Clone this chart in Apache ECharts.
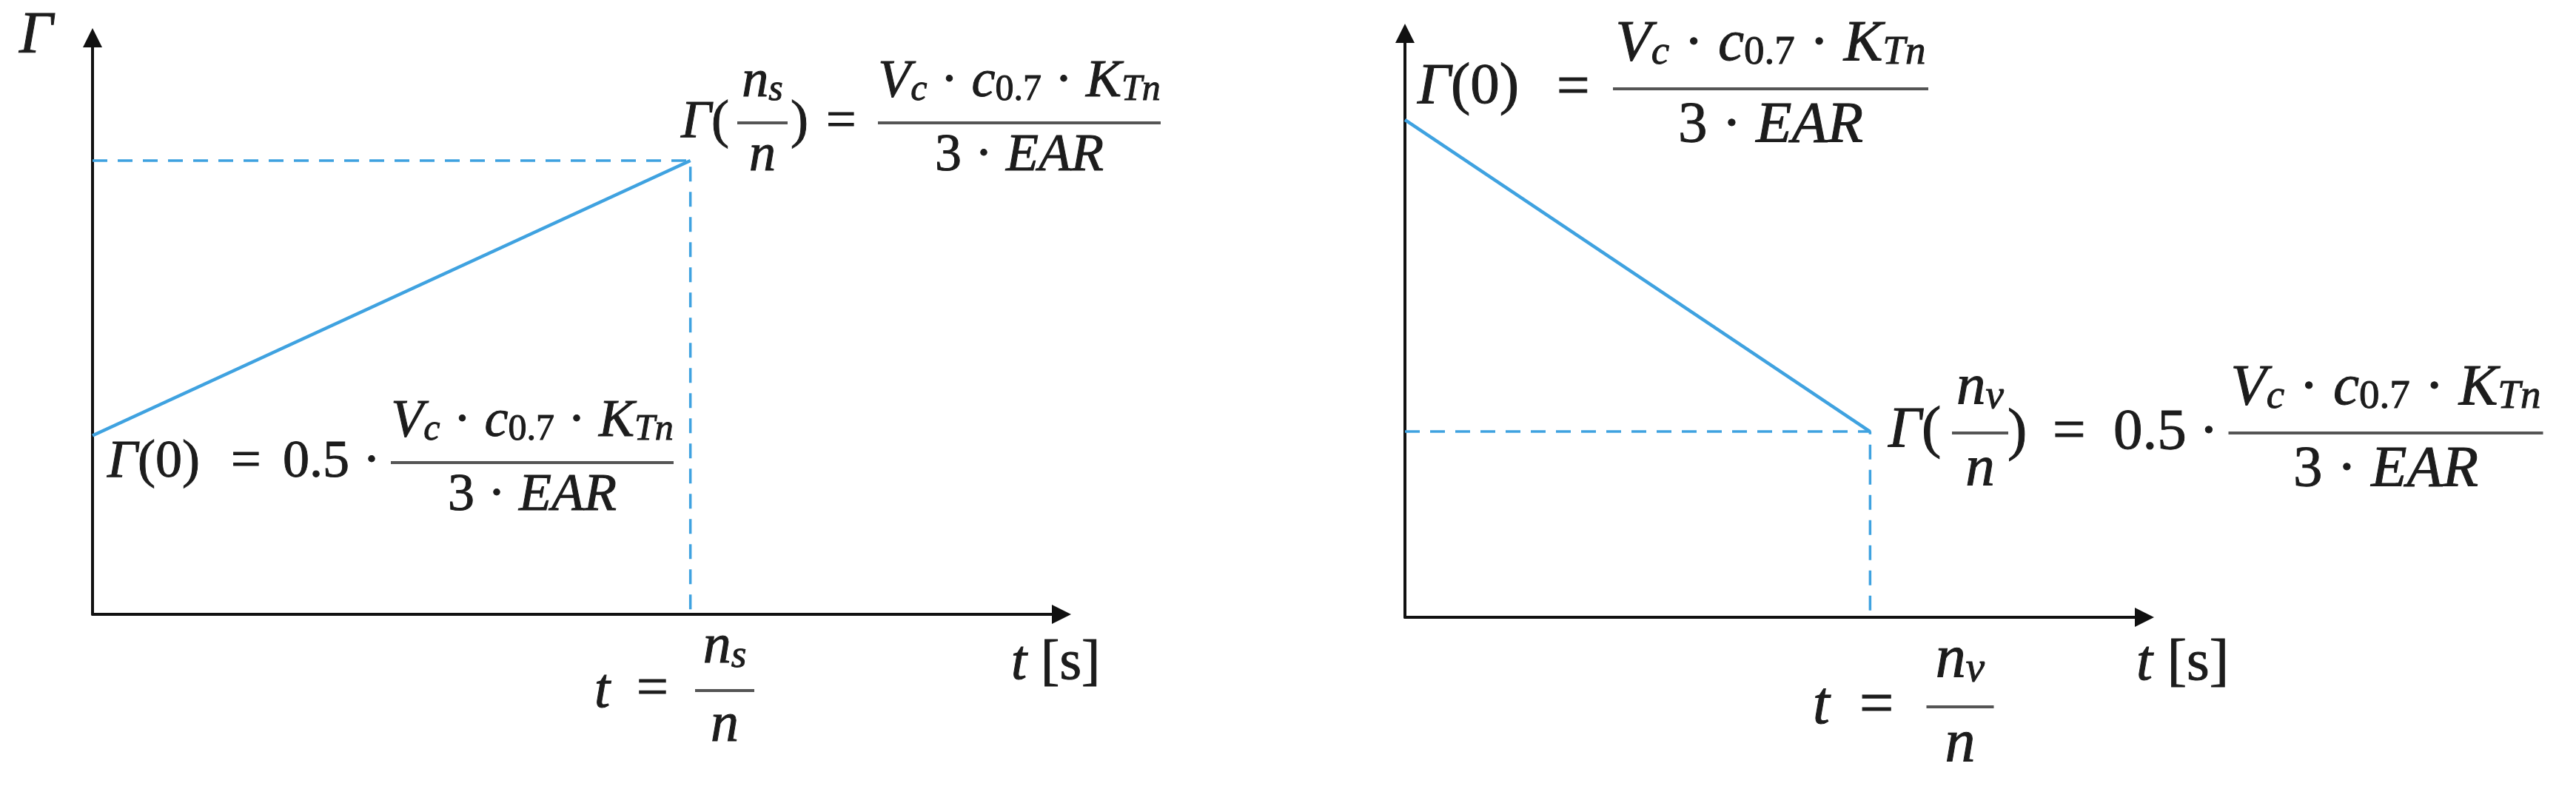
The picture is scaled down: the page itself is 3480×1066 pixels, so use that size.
<!DOCTYPE html>
<html>
<head>
<meta charset="utf-8">
<title>Γ(t)</title>
<script src="https://cdn.jsdelivr.net/npm/echarts@6/dist/echarts.min.js"></script>
<style>
  html, body { margin: 0; padding: 0; background: #fff; }
  #main { width: 3480px; height: 1066px; }
</style>
</head>
<body>
<div id="main"></div>
<script>
  // values (arbitrary units, axis runs 0..axisMax)
  var axisMax = 10;
  var leftT = [0, 6.17];          // t = 0 and t = n_s/n
  var leftGamma = [3.1, 7.87];    // Γ(0), Γ(n_s/n)
  var rightT = [0, 6.29];         // t = 0 and t = n_v/n
  var rightGamma = [8.52, 3.18];  // Γ(0), Γ(n_v/n)

  var BLUE = '#3fa2e0';
  var INK = '#1c1c1c';
  var BAR = '#555';
  var FAM = 'Liberation Serif';

  // rich styles: i = italic, r = upright, si/sr = subscripts
  function richFor(F) {
    var sub = Math.round(F * 0.7);
    var subLh = Math.round(F * 0.4);
    function st(size, italic, lh, bottom) {
      var o = {fontFamily: FAM, fontSize: size, fontStyle: italic ? 'italic' : 'normal',
               lineHeight: lh, fill: INK, stroke: INK, lineWidth: 1};
      if (bottom) o.verticalAlign = 'bottom';
      return o;
    }
    return {
      i: st(F, true, F),
      r: st(F, false, F),
      si: st(sub, true, subLh, true),
      sr: st(sub, false, subLh, true)
    };
  }

  function mathText(x, y, s, F, align) {
    align = align || 'left';
    return {
      type: 'text', silent: true,
      style: {
        x: x, y: y, text: s,
        align: align, verticalAlign: 'middle',
        textAlign: align, textVerticalAlign: 'middle',
        fill: INK, fontFamily: FAM, fontSize: F,
        rich: richFor(F)
      }
    };
  }

  function frac(cx, y, w, num, den, F) {
    return [
      mathText(cx, y - 0.76 * F, num, F, 'center'),
      mathText(cx, y + 0.63 * F, den, F, 'center'),
      {
        type: 'line', silent: true,
        shape: {x1: cx - w / 2, y1: y, x2: cx + w / 2, y2: y},
        style: {stroke: BAR, lineWidth: 4}
      }
    ];
  }

  var NUM = '{i|V}{si|c}{r| · }{i|c}{sr|0.7}{r| · }{i|K}{si|Tn}';
  var DEN = '{r|3 · }{i|EAR}';

  var labels = [].concat(
    // left panel
    [mathText(26, 50, '{i|Γ}', 80)],
    [mathText(920, 166, '{i|Γ}{r|(}', 72)],
    frac(1030, 166, 68, '{i|n}{si|s}', '{i|n}', 72),
    [mathText(1068, 166, '{r|)}', 72), mathText(1116, 166, '{r|=}', 72)],
    frac(1377, 166, 382, NUM, DEN, 72),

    [mathText(145, 625, '{i|Γ}{r|(0)}', 72), mathText(312, 625, '{r|=}', 72),
     mathText(382, 625, '{r|0.5}', 72), mathText(502, 625, '{r|·}', 72, 'center')],
    frac(719, 625, 382, NUM, DEN, 72),

    [mathText(803, 935, '{i|t}', 76), mathText(860, 933, '{r|=}', 76)],
    frac(979, 933, 80, '{i|n}{si|s}', '{i|n}', 76),
    [mathText(1366, 897, '{i|t}{r| [s]}', 76)],

    // right panel
    [mathText(1915, 118, '{i|Γ}{r|(0)}', 79), mathText(2103, 120, '{r|=}', 79)],
    frac(2392, 120, 426, NUM, DEN, 79),

    [mathText(2551, 582, '{i|Γ}{r|(}', 79)],
    frac(2675, 585, 76, '{i|n}{si|v}', '{i|n}', 79),
    [mathText(2712, 585, '{r|)}', 79), mathText(2773, 585, '{r|=}', 79),
     mathText(2855, 585, '{r|0.5}', 79), mathText(2984, 585, '{r|·}', 79, 'center')],
    frac(3223, 585, 425, NUM, DEN, 79),

    [mathText(2449, 955, '{i|t}', 82), mathText(2512, 955, '{r|=}', 82)],
    frac(2648, 955, 91, '{i|n}{si|v}', '{i|n}', 82),
    [mathText(2886, 897, '{i|t}{r| [s]}', 79)]
  );

  function axis(gridIndex) {
    return {
      type: 'value', gridIndex: gridIndex, min: 0, max: axisMax,
      axisLine: {
        show: true, symbol: ['none', 'triangle'], symbolSize: [26, 26],
        lineStyle: {color: '#111', width: 4}
      },
      axisTick: {show: false},
      axisLabel: {show: false},
      splitLine: {show: false}
    };
  }

  function solid(t, g, idx) {
    return {
      type: 'line', xAxisIndex: idx, yAxisIndex: idx, symbol: 'none',
      lineStyle: {color: BLUE, width: 4.5},
      data: [[t[0], g[0]], [t[1], g[1]]]
    };
  }

  function guide(t, g, idx) {
    return {
      type: 'line', xAxisIndex: idx, yAxisIndex: idx, symbol: 'none',
      lineStyle: {color: BLUE, width: 3.5, type: [20, 14]},
      data: [[0, g[1]], [t[1], g[1]], [t[1], 0]]
    };
  }

  var myChart = echarts.init(document.getElementById('main'), null, {renderer: 'canvas'});
  var option = {
    animation: false,
    backgroundColor: '#fff',
    grid: [
      {left: 125, top: 51, width: 1309, height: 779},
      {left: 1898, top: 45, width: 999, height: 789}
    ],
    xAxis: [axis(0), axis(1)],
    yAxis: [axis(0), axis(1)],
    series: [
      guide(leftT, leftGamma, 0),
      solid(leftT, leftGamma, 0),
      guide(rightT, rightGamma, 1),
      solid(rightT, rightGamma, 1)
    ],
    graphic: labels
  };
  myChart.setOption(option);
</script>
</body>
</html>
